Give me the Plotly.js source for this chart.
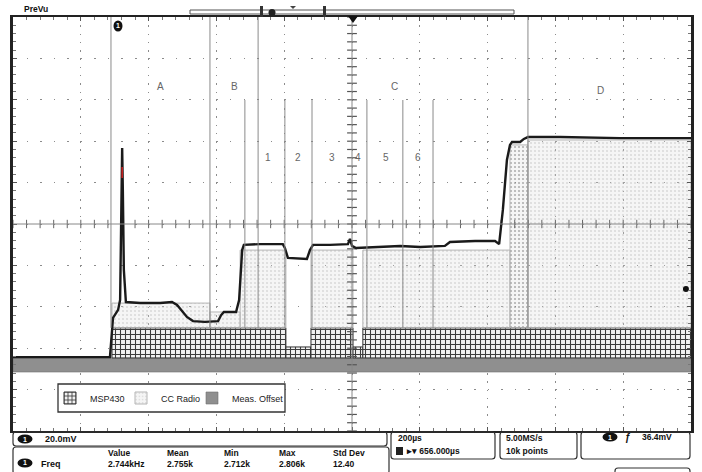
<!DOCTYPE html>
<html><head><meta charset="utf-8">
<script src="https://cdn.plot.ly/plotly-3.0.1.min.js"></script>
<style>html,body{margin:0;padding:0;background:#fff;}#chart{width:702px;height:472px;}</style>
</head><body><div id="chart"></div>
<script>
// Units: time in µs (200 µs/div, 10 div), voltage in mV (20 mV/div, 10 div)
const waveT = [0, 286, 295, 310, 316, 319, 322, 324, 327, 333, 375, 434, 469, 484, 499, 513, 531, 566, 605, 614, 622, 658, 667, 676, 681, 729, 796, 802, 811, 847, 867, 876, 885, 935, 988, 994, 1000, 1012, 1083, 1142, 1201, 1274, 1289, 1363, 1422, 1434, 1445, 1457, 1466, 1472, 1496, 1507, 1519, 1614, 1791, 2000];
const waveV = [-64.3, -64.3, -45.4, -41.5, -36.7, -2.9, 36.7, 16.4, -22.2, -37.7, -38.2, -38.2, -37.7, -39.1, -42.0, -44.9, -46.9, -47.3, -46.9, -44.0, -42.5, -42.5, -36.7, -12.6, -10.1, -9.7, -9.7, -11.6, -16.4, -16.9, -16.9, -12.6, -10.1, -10.1, -9.7, -7.2, -10.6, -11.6, -11.1, -10.6, -11.1, -10.6, -8.7, -8.2, -8.2, -9.7, 6.8, 30.9, 38.2, 39.6, 39.6, 41.1, 42.0, 42.0, 41.5, 41.5];
const spikeMarkT = [322, 322];
const spikeMarkV = [27.5, 22.2];

const msp430Start = [292, 805, 879, 1003, 1032];
const msp430End   = [805, 879, 1003, 1032, 2000];
const msp430Top   = [-50.2, -59.4, -50.2, -59.4, -50.2];
const msp430Base  = -64.7;

const ccStart = [292, 581, 670, 879, 1032, 1466, 1519];
const ccEnd   = [581, 670, 805, 1003, 1466, 1519, 2000];
const ccTop   = [-38.2, -42.5, -12.6, -12.6, -12.6, 38.2, 40.6];
const ccBase  = -50.2;

const offsetStart = [0];
const offsetEnd   = [2000];
const offsetTop   = [-64.7];
const offsetBase  = -71.5;

const majorDividers = [289, 581, 723, 1519];
const minorDividers = [684, 802, 882, 1044, 1150, 1239];
const majorDividerTop = 100, minorDividerTop = 59.9, dividerBottom = -50.2;

const sectionNames = ['A', 'B', 'C', 'D'];
const sectionT = [434, 652, 1124, 1732];
const sectionV = [66.2, 66.2, 66.2, 64.7];
const stepNames = ['1', '2', '3', '4', '5', '6'];
const stepT = [752, 841, 941, 1018, 1100, 1195];
const stepV = 31.9;

const markerDotT = [1985];
const markerDotV = [-31.4];

const measHeaders = ['Value', 'Mean', 'Min', 'Max', 'Std Dev'];
const measValues  = ['2.744kHz', '2.755k', '2.712k', '2.806k', '12.40'];
const measLabel = 'Freq';
const chScale = '20.0mV';
const timeScale = '200µs';
const delayText = '656.000µs';
const sampleRate = '5.00MS/s';
const recordLen = '10k points';
const trigLevel = '36.4mV';

// ---------- layout helpers (pixel -> paper) ----------
const L = 13, R = 691, T = 17, B = 431;
const px = x => (x - L) / (R - L);
const py = y => (B - y) / (B - T);
const FONT = 'Liberation Sans, Arial, sans-serif';

function diff(a, b) { return a.map((v, i) => b[i] - v); }

const traces = [];
traces.push({
  type: 'bar', name: 'Meas. Offset', legendrank: 3,
  x: offsetStart, width: diff(offsetStart, offsetEnd), offset: 0,
  base: offsetStart.map(() => offsetBase), y: offsetTop.map(t => t - offsetBase),
  marker: {color: '#8f8f8f', line: {color: '#6e6e6e', width: 0.6}},
  hoverinfo: 'skip'
});
traces.push({
  type: 'bar', name: 'MSP430', legendrank: 1,
  x: msp430Start, width: diff(msp430Start, msp430End), offset: 0,
  base: msp430Start.map(() => msp430Base), y: msp430Top.map(t => t - msp430Base),
  marker: {color: '#3a3a3a', line: {color: '#333', width: 1},
    pattern: {shape: '+', bgcolor: '#f2f2f2', fgcolor: '#3c3c3c', size: 5, solidity: 0.38}},
  hoverinfo: 'skip'
});
traces.push({
  type: 'bar', name: 'CC Radio', legendrank: 2,
  x: ccStart, width: diff(ccStart, ccEnd), offset: 0,
  base: ccStart.map(() => ccBase), y: ccTop.map(t => t - ccBase),
  marker: {color: '#eeeeee', line: {color: '#b5b5b5', width: 1},
    pattern: {shape: '.', bgcolor: 'rgba(215,215,215,0.25)',
      fgcolor: ccStart.map((s, i) => i === 5 ? 'rgba(120,120,120,0.55)' : 'rgba(165,165,165,0.35)'), size: 4, solidity: 0.22}},
  hoverinfo: 'skip'
});
// invisible spacer entry so the last legend label is not clipped
traces.push({type: 'scatter', mode: 'lines', x: [null], y: [null], name: ' ', legendrank: 4, showlegend: true,
  line: {color: 'rgba(0,0,0,0)', width: 0}, hoverinfo: 'skip'});

// center graticule tick marks
const hTickX = [], hTickY = [];
for (let t = 0; t <= 2000; t += 40) { hTickX.push(t); hTickY.push(0); }
const vTickX = [], vTickY = [];
for (let v = -100; v <= 100; v += 4) { vTickX.push(1000); vTickY.push(v); }
traces.push({type: 'scatter', mode: 'markers', x: hTickX, y: hTickY, showlegend: false, hoverinfo: 'skip',
  marker: {symbol: 'line-ns', size: 6, color: '#666', line: {width: 1, color: '#666'}}});
traces.push({type: 'scatter', mode: 'markers', x: vTickX, y: vTickY, showlegend: false, hoverinfo: 'skip',
  marker: {symbol: 'line-ew', size: 7, color: '#555', line: {width: 1.2, color: '#555'}}});

traces.push({type: 'scatter', mode: 'lines', x: waveT, y: waveV, showlegend: false, hoverinfo: 'skip',
  line: {color: '#1a1a1a', width: 2.4}});
traces.push({type: 'scatter', mode: 'lines', x: spikeMarkT, y: spikeMarkV, showlegend: false, hoverinfo: 'skip',
  line: {color: '#d02020', width: 1.5}});
traces.push({type: 'scatter', mode: 'markers', x: markerDotT, y: markerDotV, showlegend: false, hoverinfo: 'skip',
  marker: {color: '#111', size: 6}});

// ---------- shapes ----------
const shapes = [];
shapes.push({type: 'line', xref: 'x', yref: 'y', x0: 1000, x1: 1000, y0: -100, y1: 100, line: {color: '#888', width: 1}, layer: 'above'});
shapes.push({type: 'line', xref: 'x', yref: 'y', x0: 0, x1: 2000, y0: 0, y1: 0, line: {color: '#888', width: 1}, layer: 'above'});
majorDividers.forEach(t => shapes.push({type: 'line', xref: 'x', yref: 'y', x0: t, x1: t, y0: dividerBottom, y1: majorDividerTop, line: {color: '#8a8a8a', width: 1}}));
minorDividers.forEach(t => shapes.push({type: 'line', xref: 'x', yref: 'y', x0: t, x1: t, y0: dividerBottom, y1: minorDividerTop, line: {color: '#8a8a8a', width: 1}}));

function rrect(x0, y0, x1, y1, r) {
  const rx = r / (R - L), ry = r / (B - T);
  const a = px(x0), b = px(x1), c = py(y0), d = py(y1); // c top, d bottom
  return `M${a + rx},${c} L${b - rx},${c} Q${b},${c} ${b},${c - ry} L${b},${d + ry} Q${b},${d} ${b - rx},${d} L${a + rx},${d} Q${a},${d} ${a},${d + ry} L${a},${c - ry} Q${a},${c} ${a + rx},${c} Z`;
}
function box(x0, y0, x1, y1) {
  shapes.push({type: 'path', xref: 'paper', yref: 'paper', path: rrect(x0, y0, x1, y1, 3), line: {color: '#333', width: 1.2}, fillcolor: 'rgba(0,0,0,0)'});
}
box(13, 432, 387, 446);
box(13, 447, 389, 474);
box(391, 432, 495, 459);
box(500, 432, 577, 459);
box(581, 432, 690, 459);
box(615, 468, 690, 480);

// legend frame
shapes.push({type: 'rect', xref: 'paper', yref: 'paper', layer: 'above', x0: px(58), x1: px(285), y0: py(412), y1: py(384), line: {color: '#333', width: 1.3}, fillcolor: '#fff'});

function oval(cx, cy, w, h) {
  shapes.push({type: 'circle', xref: 'paper', yref: 'paper', x0: px(cx - w / 2), x1: px(cx + w / 2), y0: py(cy + h / 2), y1: py(cy - h / 2), fillcolor: '#111', line: {width: 0}});
}
oval(25, 439, 15, 9);
oval(25, 463, 15, 9);
oval(610, 437, 15, 9);
oval(118, 26, 9, 11);

// top record bar
shapes.push({type: 'rect', xref: 'paper', yref: 'paper', x0: px(190), x1: px(514), y0: py(14), y1: py(10), line: {color: '#555', width: 1}, fillcolor: '#fff'});
shapes.push({type: 'rect', xref: 'paper', yref: 'paper', x0: px(260), x1: px(263), y0: py(17), y1: py(6), line: {width: 0}, fillcolor: '#333'});
shapes.push({type: 'rect', xref: 'paper', yref: 'paper', x0: px(323), x1: px(326), y0: py(17), y1: py(6), line: {width: 0}, fillcolor: '#333'});
shapes.push({type: 'circle', xref: 'paper', yref: 'paper', x0: px(268.5), x1: px(275.5), y0: py(16), y1: py(9), line: {width: 0}, fillcolor: '#222'});
shapes.push({type: 'path', xref: 'paper', yref: 'paper', path: `M${px(290)},${py(6)} L${px(296)},${py(6)} L${px(293)},${py(9)} Z`, line: {width: 0}, fillcolor: '#444'});
// trigger position marker
shapes.push({type: 'path', xref: 'paper', yref: 'paper', path: `M${px(348)},${py(16)} L${px(358)},${py(16)} L${px(353)},${py(23)} Z`, line: {width: 0}, fillcolor: '#111'});
// time-base icon
shapes.push({type: 'rect', xref: 'paper', yref: 'paper', x0: px(396), x1: px(403), y0: py(455), y1: py(447), line: {width: 0}, fillcolor: '#222'});

// ---------- annotations ----------
const ann = [];
function txt(x, y, s, size, opts) {
  ann.push(Object.assign({xref: 'paper', yref: 'paper', x: px(x), y: py(y), text: s, showarrow: false,
    xanchor: 'left', yanchor: 'middle', font: {family: FONT, size: size, color: '#111'}}, opts || {}));
}
sectionNames.forEach((s, i) => ann.push({xref: 'x', yref: 'y', x: sectionT[i], y: sectionV[i], text: s, showarrow: false,
  font: {family: FONT, size: 10, color: '#666'}}));
stepNames.forEach((s, i) => ann.push({xref: 'x', yref: 'y', x: stepT[i], y: stepV, text: s, showarrow: false,
  font: {family: FONT, size: 10, color: '#666'}}));

txt(22, 9, '<b>PreVu</b>', 8.5);
txt(118, 26, '<b>1</b>', 7, {xanchor: 'center', font: {family: FONT, size: 7, color: '#fff'}});
txt(25, 439, '<b>1</b>', 7, {xanchor: 'center', font: {family: FONT, size: 7, color: '#fff'}});
txt(25, 463, '<b>1</b>', 7, {xanchor: 'center', font: {family: FONT, size: 7, color: '#fff'}});
txt(610, 437, '<b>1</b>', 7, {xanchor: 'center', font: {family: FONT, size: 7, color: '#fff'}});
txt(43, 439, '<b>' + chScale + '</b>', 9);
txt(39, 464, '<b>' + measLabel + '</b>', 9);
const colX = [106, 165, 222, 277, 331];
measHeaders.forEach((h, i) => txt(colX[i], 453, '<b>' + h + '</b>', 8.5));
measValues.forEach((v, i) => txt(colX[i], 464, '<b>' + v + '</b>', 8.5));
txt(396, 438, '<b>' + timeScale + '</b>', 8.5);
txt(404, 451, '<b>▸▾ ' + delayText + '</b>', 8.5);
txt(504, 438, '<b>' + sampleRate + '</b>', 8.5);
txt(504, 451, '<b>' + recordLen + '</b>', 8.5);
txt(623, 437, '<b>ƒ</b>', 10);
txt(640, 437, '<b>' + trigLevel + '</b>', 8.5);

const layout = {
  width: 702, height: 472,
  margin: {l: L, r: 702 - R, t: T, b: 472 - B, pad: 0},
  paper_bgcolor: '#fff', plot_bgcolor: '#fff',
  barmode: 'overlay',
  showlegend: true,
  legend: {x: px(50), y: py(398), xanchor: 'left', yanchor: 'middle', orientation: 'h',
    bgcolor: 'rgba(0,0,0,0)', borderwidth: 0,
    font: {family: FONT, size: 9, color: '#222'}, itemwidth: 30, traceorder: 'normal',
    entrywidth: 26, entrywidthmode: 'pixels'},
  xaxis: {range: [0, 2000], dtick: 200, tick0: 0, showticklabels: false, zeroline: false,
    showgrid: true, gridcolor: '#8c8c8c', gridwidth: 1, griddash: '1.5px,6.78px',
    showline: true, linecolor: '#222', linewidth: 2, mirror: 'allticks',
    ticks: 'inside', ticklen: 4, tickcolor: '#555', tickwidth: 1,
    minor: {dtick: 40, ticks: 'inside', ticklen: 3, tickcolor: '#777', showgrid: false},
    fixedrange: true},
  yaxis: {range: [-100, 100], dtick: 20, tick0: 0, showticklabels: false,
    zeroline: false,
    showgrid: true, gridcolor: '#8c8c8c', gridwidth: 1, griddash: '1.5px,12.06px',
    showline: true, linecolor: '#222', linewidth: 3, mirror: 'allticks',
    ticks: 'inside', ticklen: 4, tickcolor: '#555', tickwidth: 1,
    minor: {dtick: 4, ticks: 'inside', ticklen: 3, tickcolor: '#777', showgrid: false},
    fixedrange: true},
  shapes: shapes,
  annotations: ann
};
Plotly.newPlot('chart', traces, layout, {staticPlot: true, displayModeBar: false});
</script></body></html>
